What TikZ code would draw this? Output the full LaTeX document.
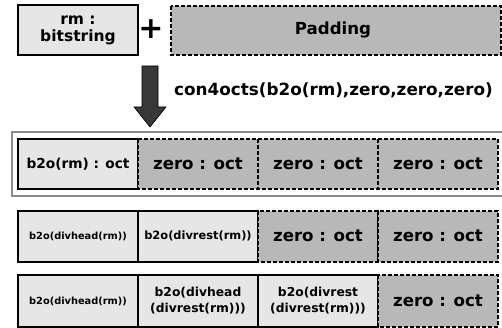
\documentclass[tikz,border=0pt]{standalone}
\usepackage{fontspec}
\setmainfont{DejaVu Sans}
\usetikzlibrary{patterns}
\definecolor{lightcell}{HTML}{E6E6E6}
\definecolor{darkcell}{HTML}{B8B8B8}
\tikzset{
  x=1pt, y=-1pt,
  solidcell/.style={draw=black, line width=1.5pt, fill=lightcell},
  zerocell/.style={draw=black, line width=1.5pt, dash pattern=on 4pt off 2pt, fill=darkcell},
  label/.style={font=\bfseries, align=center, inner sep=0pt},
  big/.style={label, font=\fontsize{16.6}{17}\bfseries},
}
\begin{document}
\begin{tikzpicture}
\useasboundingbox (0,0) rectangle (502,328);
% top: bitstring plus padding
\draw[solidcell] (18,5) rectangle (138,55);
\node[label, font=\fontsize{15.5}{17}\bfseries] (rm) at (78,30) {rm :\\bitstring};
\node[label, font=\fontsize{30}{30}\bfseries] (plus) at (151,29) {+};
\draw[zerocell] (171,6) rectangle (501,55);
\node[big] (pad) at (333,30) {Padding};
% conversion arrow
\draw[fill=black!78, draw=black, line width=0.6pt]
  (142,66) -- (158,66) -- (158,107) -- (166,107) -- (150,127) -- (134,107) -- (142,107) -- cycle;
\node[label, font=\fontsize{16.8}{17}\bfseries, anchor=west] (conv) at (174,90) {con4octs(b2o(rm),zero,zero,zero)};
% result frame, open on the right
\draw[draw=black!45, line width=2pt] (506,132.5) -- (11.5,132.5) -- (11.5,196.5) -- (506,196.5);
% row 1
\draw[solidcell] (18,139) rectangle (138,189);
\draw[zerocell] (138,139) rectangle (258,189);
\draw[zerocell] (258,139) rectangle (378,189);
\draw[zerocell] (378,139) rectangle (498,189);
\node[label, font=\fontsize{13.7}{14}\bfseries] (a1) at (78,164) {b2o(rm) : oct};
\node[big] (a2) at (198,164) {zero : oct};
\node[big] (a3) at (318,164) {zero : oct};
\node[big] (a4) at (438,164) {zero : oct};
% row 2
\draw[solidcell] (18,211) rectangle (138,262);
\draw[solidcell] (138,211) rectangle (258,262);
\draw[zerocell] (258,211) rectangle (378,262);
\draw[zerocell] (378,211) rectangle (498,262);
\node[label, font=\fontsize{9.8}{10}\bfseries] (b1) at (78,236) {b2o(divhead(rm))};
\node[label, font=\fontsize{11.4}{12}\bfseries] (b2) at (198,236) {b2o(divrest(rm))};
\node[big] (b3) at (318,236) {zero : oct};
\node[big] (b4) at (438,236) {zero : oct};
% row 3
\draw[solidcell] (18,275) rectangle (138,327);
\draw[solidcell] (138,275) rectangle (258,327);
\draw[solidcell] (258,275) rectangle (378,327);
\draw[zerocell] (378,275) rectangle (498,327);
\node[label, font=\fontsize{9.8}{10}\bfseries] (c1) at (78,301) {b2o(divhead(rm))};
\node[label, font=\fontsize{12.3}{16}\bfseries] (c2) at (198,301) {b2o(divhead\\(divrest(rm)))};
\node[label, font=\fontsize{12.3}{16}\bfseries] (c3) at (318,301) {b2o(divrest\\(divrest(rm)))};
\node[big] (c4) at (438,301) {zero : oct};
\end{tikzpicture}
\end{document}
